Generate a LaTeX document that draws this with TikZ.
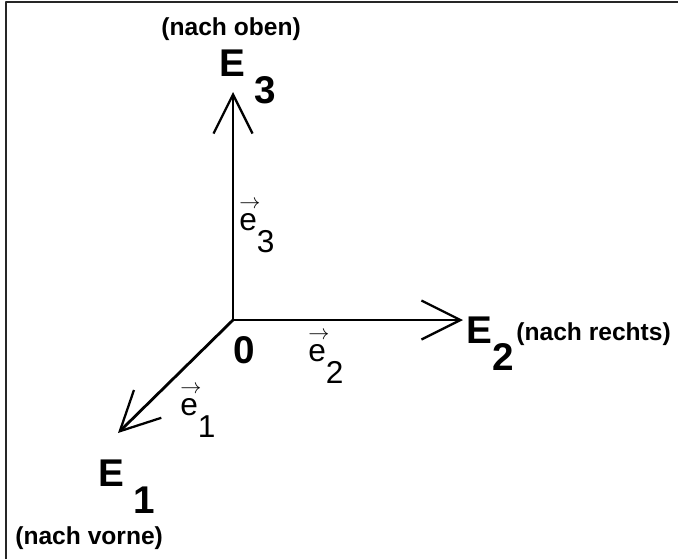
\documentclass[tikz,border=0pt]{standalone}
\usepackage{fontspec}
\setmainfont{Liberation Sans}
\usetikzlibrary{arrows.meta,positioning}

\begin{document}
\begin{tikzpicture}[x=0.02cm,y=-0.02cm,line join=round,line cap=round,
    >={Straight Barb[length=0.78cm,width=0.78cm,line width=1.3pt]}]
    \tikzset{achse/.style={->,line width=1.6pt},
        gross/.style={font=\fontsize{22}{26}\selectfont\bfseries,inner sep=0pt,anchor=base west},
        klein/.style={font=\fontsize{14}{17}\selectfont\bfseries,inner sep=0pt,anchor=base west},
        vekt/.style={font=\fontsize{18}{21}\selectfont,inner sep=0pt,anchor=base west}}
    \def\E#1{E\hspace{0.25em}\raisebox{-0.72em}{#1}}
    \def\ev#1{\makebox[0pt][l]{\raisebox{0.68em}{\fontsize{12}{12}\selectfont$\rightarrow$}}e\raisebox{-0.7em}{#1}}
    \useasboundingbox (0,0) rectangle (678,559);
    \draw[line width=1.1pt,black!85,line cap=butt] (6,559)--(6,2)--(678,2);
    %===============================
    \coordinate (O) at (233,320);
    \coordinate (T1) at (118,433);
    \coordinate (T2) at (463,320);
    \coordinate (T3) at (233,92);
    \draw[achse] (O)--(T3);
    \draw[achse] (O)--(T2);
    \draw[achse] (O)--(T1);
    
    \node[gross] (null) at (233,363) {0};
    \node[gross] (E3) at (219,76) {\E{3}};
    \node[gross] (E2) at (466,343) {E\raisebox{-0.72em}{2}};
    \node[gross] (E1) at (98,486) {\E{1}};
    \node[klein] (oben) at (161,35) {(nach oben)};
    \node[klein] (rechts) at (516,340) {(nach rechts)};
    \node[klein] (vorne) at (15,544) {(nach vorne)};
    
    \node[vekt] (e3) at (239,230) {\ev{3}};
    \node[vekt] (e2) at (308,361) {\ev{2}};
    \node[vekt] (e1) at (180,415) {\ev{1}};
\end{tikzpicture}
\end{document}
